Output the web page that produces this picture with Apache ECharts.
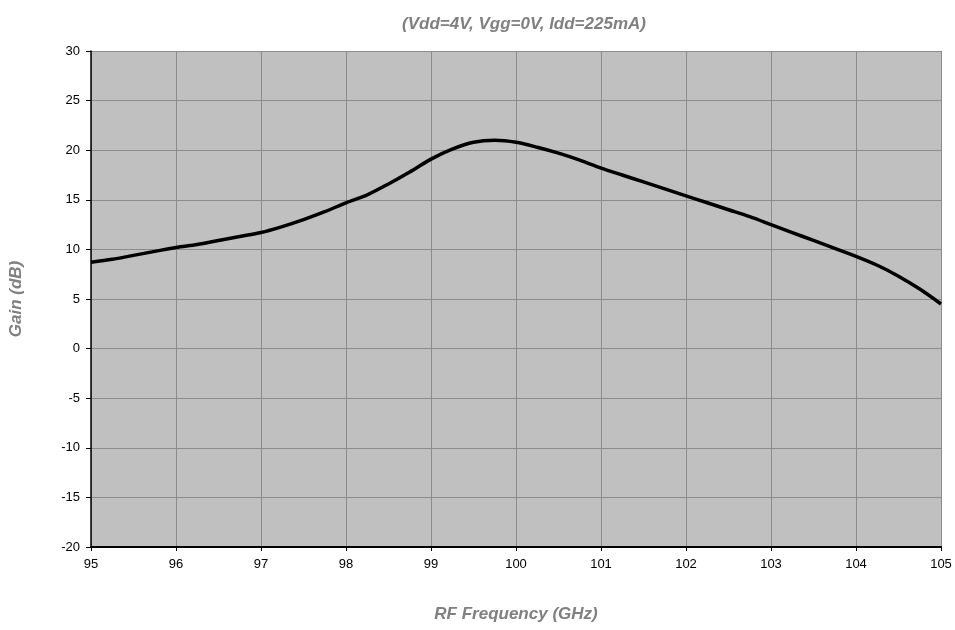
<!DOCTYPE html>
<html>
<head>
<meta charset="utf-8">
<script src="https://cdn.jsdelivr.net/npm/echarts@6/dist/echarts.min.js"></script>
<style>html,body{margin:0;padding:0;background:#fff}#c{width:955px;height:630px}</style>
</head>
<body>
<div id="c"></div>
<script>
const freqGHz = [95,95.25,95.5,95.75,96,96.25,96.5,96.75,97,97.25,97.5,97.75,98,98.25,98.5,98.75,99,99.25,99.5,99.75,100,100.25,100.5,100.75,101,101.25,101.5,101.75,102,102.25,102.5,102.75,103,103.25,103.5,103.75,104,104.25,104.5,104.75,105];
const gainDb = [8.7,9.0,9.4,9.8,10.2,10.5,10.9,11.3,11.7,12.3,13.0,13.8,14.7,15.5,16.6,17.8,19.1,20.1,20.8,21.0,20.8,20.3,19.7,19.0,18.2,17.5,16.8,16.1,15.4,14.7,14.0,13.3,12.5,11.7,10.9,10.1,9.3,8.4,7.3,6.0,4.5];
const titleText = '(Vdd=4V, Vgg=0V, Idd=225mA)';
const xName = 'RF Frequency (GHz)';
const yName = 'Gain (dB)';

const nameStyle = {fontFamily: 'Liberation Sans, Arial', fontSize: 17, fontWeight: 'bold', fontStyle: 'italic', color: '#808080'};
const chart = echarts.init(document.getElementById('c'));
chart.setOption({
  animation: false,
  title: {
    text: titleText, left: 519, top: 11, textAlign: 'center',
    textStyle: nameStyle
  },
  grid: {left: 91, right: 14, top: 51, bottom: 83, show: true, backgroundColor: '#c0c0c0', borderWidth: 0},
  xAxis: {
    type: 'value', min: 95, max: 105, interval: 1,
    name: xName, nameLocation: 'middle', nameGap: 59,
    nameTextStyle: nameStyle,
    axisLine: {show: true, onZero: false, lineStyle: {color: '#000', width: 2}},
    axisTick: {show: true, inside: false, length: 4, lineStyle: {color: '#000'}},
    axisLabel: {color: '#000', fontFamily: 'Liberation Sans, Arial', fontSize: 13, margin: 11},
    splitLine: {show: true, lineStyle: {color: '#8c8c8c', width: 1}}
  },
  yAxis: {
    type: 'value', min: -20, max: 30, interval: 5,
    name: yName, nameLocation: 'middle', nameGap: 66,
    nameTextStyle: nameStyle,
    axisLine: {show: true, onZero: false, lineStyle: {color: '#000', width: 1.5}},
    axisTick: {show: true, inside: false, length: 5, lineStyle: {color: '#000'}},
    axisLabel: {color: '#000', fontFamily: 'Liberation Sans, Arial', fontSize: 13, margin: 11},
    splitLine: {show: true, lineStyle: {color: '#8c8c8c', width: 1}}
  },
  series: [{
    type: 'line',
    data: freqGHz.map((f, i) => [f, gainDb[i]]),
    showSymbol: false,
    smooth: 0.3,
    lineStyle: {color: '#000', width: 3.5},
    clip: true
  }]
});
</script>
</body>
</html>
